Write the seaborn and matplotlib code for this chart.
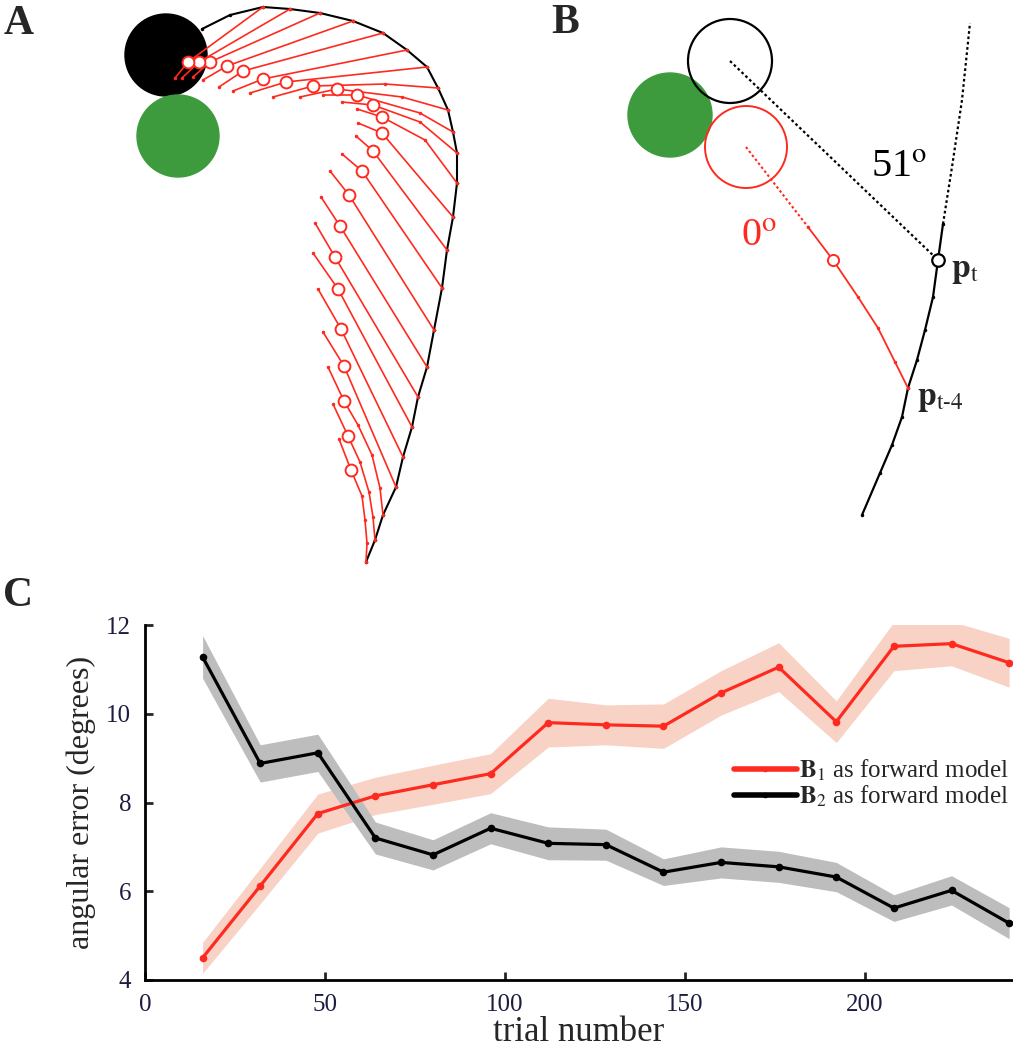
import matplotlib
matplotlib.use("Agg")
import matplotlib.pyplot as plt
from matplotlib.patches import Circle
from matplotlib.lines import Line2D
import pandas as pd
import seaborn as sns

# ---------------- panel C: angular error per block of trials ----------------
trials = [16, 32, 48, 64, 80, 96, 112, 128, 144, 160, 176, 192, 208, 224, 240]
b1_mean = [4.50, 6.12, 7.75, 8.15, 8.40, 8.65, 9.80, 9.75, 9.72, 10.47, 11.05, 9.82, 11.52, 11.58, 11.15]
b1_sem = [0.35, 0.40, 0.44, 0.42, 0.44, 0.45, 0.55, 0.45, 0.50, 0.50, 0.55, 0.47, 0.55, 0.50, 0.55]
b2_mean = [11.28, 8.88, 9.12, 7.20, 6.82, 7.42, 7.08, 7.05, 6.43, 6.65, 6.55, 6.32, 5.62, 6.02, 5.28]
b2_sem = [0.48, 0.42, 0.42, 0.36, 0.34, 0.35, 0.37, 0.35, 0.30, 0.35, 0.35, 0.33, 0.30, 0.33, 0.35]
model_names = [r"$\mathbf{B}_1$ as forward model", r"$\mathbf{B}_2$ as forward model"]
x_ticks = [0, 50, 100, 150, 200]
y_ticks = [4, 6, 8, 10, 12]

# ---------------- panel A: trajectory (pixel coords of the figure) ----------------
a_curve_x = [366, 375, 383, 396, 403, 412, 418, 427, 434, 442, 447, 453, 457, 457, 453, 448,
             438, 427, 407, 383, 353, 320, 290, 263, 230, 202]
a_curve_y = [562, 540, 515, 487, 457, 427, 397, 367, 330, 288, 250, 217, 183, 153, 132, 110,
             88, 67, 50, 33, 21, 13, 9, 7, 15, 29]
# predicted position (open circle) and end of each red prediction line
a_circ_x = [351, 348, 344, 344, 341, 338, 335, 340, 349, 362, 373, 382, 382, 373, 357, 337,
            313, 286, 263, 243, 227, 210, 199, 188]
a_circ_y = [470, 436, 401, 366, 329, 289, 257, 226, 195, 171, 151, 133, 117, 105, 95, 89,
            86, 82, 79, 71, 66, 62, 62, 62]
a_end_x = [339, 333, 328, 323, 318, 313, 315, 321, 330, 342, 356, 358, 357, 342, 323, 300,
           273, 250, 233, 219, 203, 193, 182, 175]
a_end_y = [439, 404, 367, 332, 289, 253, 223, 197, 171, 154, 136, 123, 109, 102, 95, 97,
           97, 93, 91, 87, 80, 77, 78, 78]
# bends of the lowest and of some upper prediction lines
a_bend_x = {0: [367, 365, 362], 1: [373, 369, 360], 2: [380, 372, 358],
            12: [425], 13: [420], 14: [420], 15: [402], 16: [385]}
a_bend_y = {0: [543, 520, 496], 1: [517, 492, 462], 2: [488, 455, 425],
            12: [140], 13: [122], 14: [113], 15: [97], 16: [84]}
a_hand = (166, 55)
a_goal = (178, 136)

# ---------------- panel B: single prediction ----------------
b_curve_x = [862, 880, 892, 902, 908, 917, 925, 933, 938, 943]
b_curve_y = [515, 473, 445, 417, 388, 360, 330, 297, 260, 224]
b_future_x = [943, 952, 962, 970]
b_future_y = [224, 167, 100, 23]
b_pred_x = [908, 895, 878, 858, 833, 808]
b_pred_y = [388, 362, 328, 297, 260, 227]
b_goal = (670, 115)
b_hand = (730, 61)
b_pred_hand = (746, 147)

RED = "#ff2a1f"
GREEN = "#3d9b3d"
RED_BAND = "#f9d2c6"
GREY_BAND = "#bdbdbd"
TICK_COL = "#1d1d40"

sns.set_style("ticks")
plt.rcParams["font.family"] = ["Liberation Serif", "DejaVu Serif"]
plt.rcParams["mathtext.fontset"] = "stix"

fig = plt.figure(figsize=(10.13, 10.5), dpi=100)

# overlay axes in pixel units for the schematic panels
sk = fig.add_axes([0, 0, 1, 1])
sk.set_xlim(0, 1013)
sk.set_ylim(1050, 0)
sk.axis("off")

# panel A
sk.add_patch(Circle(a_hand, 41, color="black", zorder=1))
sk.add_patch(Circle(a_goal, 41, color=GREEN, zorder=1))
sk.plot(a_curve_x, a_curve_y, color="black", lw=1.5, marker=".", ms=3, zorder=2)
for i in range(len(a_circ_x)):
    xs = [a_curve_x[i]] + a_bend_x.get(i, []) + [a_circ_x[i], a_end_x[i]]
    ys = [a_curve_y[i]] + a_bend_y.get(i, []) + [a_circ_y[i], a_end_y[i]]
    sk.plot(xs, ys, color=RED, lw=1.2, marker=".", ms=3, zorder=3)
sk.plot(a_circ_x, a_circ_y, ls="none", marker="o", ms=8.5, mfc="white", mec=RED, mew=1.4, zorder=4)

# panel B
sk.add_patch(Circle(b_goal, 42, color=GREEN, zorder=1))
sk.add_patch(Circle(b_hand, 42, fill=False, ec="black", lw=1.6, zorder=2))
sk.add_patch(Circle(b_pred_hand, 41, fill=False, ec=RED, lw=1.4, zorder=2))
sk.plot([b_hand[0], b_curve_x[8]], [b_hand[1], b_curve_y[8]], color="black", lw=1.6,
        ls=(0, (1.2, 1.2)), zorder=2)
sk.plot([b_pred_hand[0], b_pred_x[-1]], [b_pred_hand[1], b_pred_y[-1]], color=RED, lw=1.5,
        ls=(0, (1.2, 1.2)), zorder=2)
sk.plot(b_future_x, b_future_y, color="black", lw=1.6, ls=(0, (1.2, 1.2)), zorder=2)
sk.plot(b_curve_x, b_curve_y, color="black", lw=1.6, marker=".", ms=3, zorder=3)
sk.plot(b_pred_x, b_pred_y, color=RED, lw=1.3, marker=".", ms=3, zorder=3)
sk.plot(b_pred_x[4], b_pred_y[4], marker="o", ms=8, mfc="white", mec=RED, mew=1.4, zorder=4)
sk.plot(b_curve_x[8], b_curve_y[8], marker="o", ms=9, mfc="white", mec="black", mew=1.6, zorder=4)

sk.text(871, 177, r"51$^{\mathrm{o}}$", fontsize=29, color="black", va="baseline")
sk.text(741, 246, r"0$^{\mathrm{o}}$", fontsize=29, color=RED, va="baseline")
sk.text(951, 277, r"$\mathbf{p}_{\mathrm{t}}$", fontsize=24, va="baseline")
sk.text(917, 405, r"$\mathbf{p}_{\mathrm{t\text{-}4}}$", fontsize=24, va="baseline")

for lab, (lx, ly) in zip(["A", "B", "C"], [(4, 34), (551, 33), (3, 606)]):
    sk.text(lx, ly, lab, fontsize=30, fontweight="bold", va="baseline")

# panel C
axc = fig.add_axes([145 / 1013, 70 / 1050, 867 / 1013, 355 / 1050])
df = pd.DataFrame({
    "trial": trials * 2,
    "error": b1_mean + b2_mean,
    "model": [model_names[0]] * len(trials) + [model_names[1]] * len(trials),
})
b1_lo = [m - s for m, s in zip(b1_mean, b1_sem)]
b1_hi = [m + s for m, s in zip(b1_mean, b1_sem)]
b2_lo = [m - s for m, s in zip(b2_mean, b2_sem)]
b2_hi = [m + s for m, s in zip(b2_mean, b2_sem)]
axc.fill_between(trials, b1_lo, b1_hi, color=RED_BAND, lw=0, zorder=1)
axc.fill_between(trials, b2_lo, b2_hi, color=GREY_BAND, lw=0, zorder=2)
sns.lineplot(data=df, x="trial", y="error", hue="model", palette=[RED, "black"],
             marker="o", markersize=5.5, markeredgewidth=0, linewidth=2.3,
             legend=False, ax=axc, zorder=3)
for ln in axc.lines:
    ln.set_clip_on(False)

axc.set_xlim(0, 240.8)
axc.set_ylim(4, 12)
axc.set_xticks(x_ticks)
axc.set_yticks(y_ticks)
sns.despine(ax=axc)
for sp in ["left", "bottom"]:
    axc.spines[sp].set_linewidth(2.0)
    axc.spines[sp].set_color("black")
axc.tick_params(direction="in", length=6, width=2.0, labelsize=18, labelcolor=TICK_COL, pad=10)
axc.set_xlabel("trial number", fontsize=25, labelpad=0)
axc.set_ylabel("angular error (degrees)", fontsize=23, labelpad=7)

handles = [Line2D([0], [0], color=RED, lw=4, marker="o", ms=4, mew=0),
           Line2D([0], [0], color="black", lw=4, marker="o", ms=4, mew=0)]
axc.legend(handles, model_names, loc="upper left", bbox_to_anchor=(0.668, 0.655),
           frameon=False, fontsize=18, handlelength=2.5, handletextpad=0.1,
           labelspacing=0.05, borderaxespad=0)

fig.savefig("out.png", dpi=100)
